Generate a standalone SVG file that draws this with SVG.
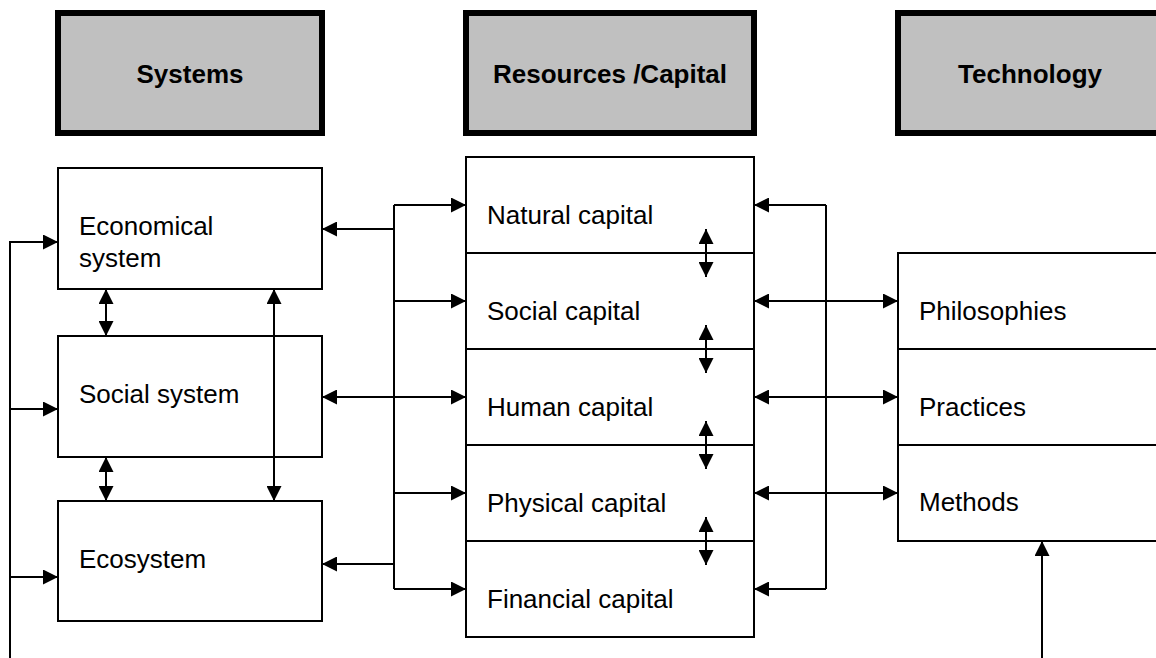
<svg xmlns="http://www.w3.org/2000/svg" width="1156" height="658" viewBox="0 0 1156 658">
<defs>
<marker id="ah" markerUnits="userSpaceOnUse" markerWidth="15" markerHeight="15" refX="15" refY="7.5" orient="auto-start-reverse" viewBox="0 0 15 15">
<path d="M0,0 L15,7.5 L0,15 z" fill="#000"/>
</marker>
<style>
.hdr{fill:#c0c0c0;stroke:#000;stroke-width:6}
.box{fill:#fff;stroke:#000;stroke-width:2}
.div{stroke:#000;stroke-width:2;fill:none}
.ht{font-family:"Liberation Sans",Arial,sans-serif;font-size:26px;font-weight:bold;fill:#000;text-anchor:middle}
.t{font-family:"Liberation Sans",Arial,sans-serif;font-size:26px;fill:#000}
.c{stroke:#000;stroke-width:2;fill:none}
.e{marker-end:url(#ah)}
.b{marker-start:url(#ah);marker-end:url(#ah)}
</style>
</defs>
<rect width="1156" height="658" fill="#fff"/>
<g id="hdr-systems"><rect class="hdr" x="58" y="13" width="264" height="120"/><text class="ht" x="190" y="83">Systems</text></g>
<g id="hdr-resources"><rect class="hdr" x="466" y="13" width="288" height="120"/><text class="ht" x="610" y="83">Resources /Capital</text></g>
<g id="hdr-technology"><rect class="hdr" x="898" y="13" width="264" height="120"/><text class="ht" x="1030" y="83">Technology</text></g>

<g id="economical"><rect class="box" x="58" y="168" width="264" height="121"/><text class="t" x="79" y="235">Economical</text><text class="t" x="79" y="267">system</text></g>
<g id="social"><rect class="box" x="58" y="336" width="264" height="121"/><text class="t" x="79" y="403">Social system</text></g>
<g id="ecosystem"><rect class="box" x="58" y="501" width="264" height="120"/><text class="t" x="79" y="568">Ecosystem</text></g>

<g id="resources">
<rect class="box" x="466" y="157" width="288" height="480"/>
<path class="div" d="M466,253H754M466,349H754M466,445H754M466,541H754"/>
<text class="t" x="487" y="224">Natural capital</text>
<text class="t" x="487" y="320">Social capital</text>
<text class="t" x="487" y="416">Human capital</text>
<text class="t" x="487" y="512">Physical capital</text>
<text class="t" x="487" y="608">Financial capital</text>
</g>

<g id="technology">
<rect class="box" x="898" y="253" width="270" height="288"/>
<path class="div" d="M898,349H1168M898,445H1168"/>
<text class="t" x="919" y="320">Philosophies</text>
<text class="t" x="919" y="416">Practices</text>
<text class="t" x="919" y="511">Methods</text>
</g>

<g id="connectors">
<path class="c" d="M10,658V242H58"/>
<path class="c e" d="M10,242H58"/>
<path class="c e" d="M10,409H58"/>
<path class="c e" d="M10,577H58"/>
<path class="c b" d="M106,289V336"/>
<path class="c b" d="M106,457V501"/>
<path class="c b" d="M274,289V501"/>
<path class="c" d="M394,205V589"/>
<path class="c e" d="M394,205H466"/>
<path class="c e" d="M394,301H466"/>
<path class="c e" d="M394,493H466"/>
<path class="c e" d="M394,589H466"/>
<path class="c e" d="M394,229H322"/>
<path class="c e" d="M394,564H322"/>
<path class="c b" d="M322,397H466"/>
<path class="c b" d="M706,229V277"/>
<path class="c b" d="M706,325V373"/>
<path class="c b" d="M706,421V469"/>
<path class="c b" d="M706,517V565"/>
<path class="c" d="M826,205V589"/>
<path class="c e" d="M826,205H754"/>
<path class="c e" d="M826,589H754"/>
<path class="c b" d="M754,301H898"/>
<path class="c b" d="M754,397H898"/>
<path class="c b" d="M754,493H898"/>
<path class="c e" d="M1042,658V541"/>
</g>
</svg>
